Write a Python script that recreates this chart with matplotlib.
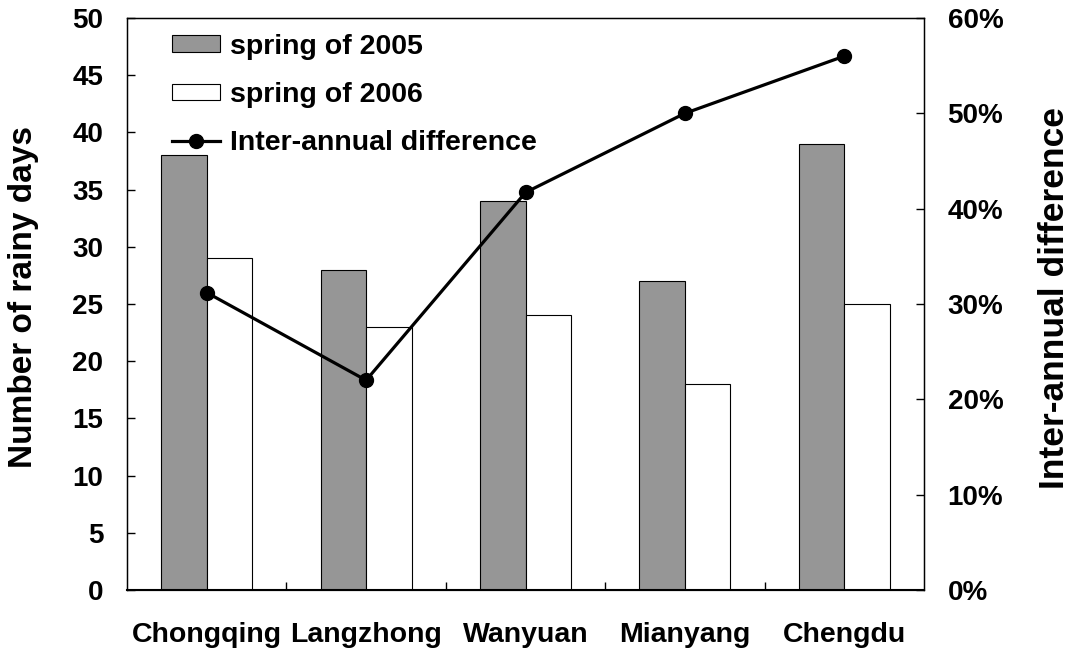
import matplotlib
matplotlib.use("Agg")
import matplotlib.pyplot as plt
import numpy as np
from matplotlib.ticker import FuncFormatter, FixedLocator, NullFormatter

plt.rcParams['font.family'] = ['Liberation Sans', 'DejaVu Sans']
plt.rcParams['font.weight'] = 'bold'

categories = ["Chongqing", "Langzhong", "Wanyuan", "Mianyang", "Chengdu"]
spring_2005 = [38, 28, 34, 27, 39]
spring_2006 = [29, 23, 24, 18, 25]
inter_annual_diff = [0.312, 0.22, 0.417, 0.50, 0.56]

fig = plt.figure(figsize=(10.70, 6.54), dpi=100)
ax = fig.add_axes([127/1070, 1-590/654, 797/1070, 572/654])
x = np.arange(len(categories))
w = 0.285
b1 = ax.bar(x - w/2, spring_2005, w, color='#969696', edgecolor='black', linewidth=0.8, label='spring of 2005', zorder=2)
b2 = ax.bar(x + w/2, spring_2006, w, color='white', edgecolor='black', linewidth=0.8, label='spring of 2006', zorder=2)
ax.set_xlim(-0.5, len(categories) - 0.5)
ax.set_ylim(0, 50)
ax.set_yticks(np.arange(0, 51, 5))
ax.xaxis.set_major_locator(FixedLocator(np.arange(0.5, len(categories) - 0.5, 1)))
ax.xaxis.set_major_formatter(NullFormatter())
ax.xaxis.set_minor_locator(FixedLocator(x))
ax.set_xticklabels(categories, minor=True)
ax.tick_params(axis='x', which='major', direction='in', length=6, width=1)
ax.tick_params(axis='x', which='minor', length=0, pad=23, labelsize=20.5)
ax.tick_params(axis='y', direction='in', length=6, width=1, labelsize=20, pad=17)
for s in ax.spines.values():
    s.set_linewidth(1.0)
ax.spines['bottom'].set_linewidth(1.5)
ax.set_ylabel('Number of rainy days', fontsize=24, fontweight='bold', labelpad=24)
ax.yaxis.label.set_y(0.513)

ax2 = ax.twinx()
ax2.set_position(ax.get_position())
ln, = ax2.plot(x, inter_annual_diff, color='black', linewidth=2.3, marker='o', markersize=10,
               label='Inter-annual difference', zorder=3)
ax2.set_ylim(0, 0.6)
ax2.set_yticks(np.arange(0, 0.61, 0.1))
ax2.yaxis.set_major_formatter(FuncFormatter(lambda v, p: f"{v*100:.0f}%"))
ax2.tick_params(axis='y', direction='in', length=6, width=1, labelsize=20, pad=17)
ax2.set_ylabel('Inter-annual difference', fontsize=25.5, fontweight='bold', labelpad=25)
ax2.yaxis.label.set_y(0.511)

leg = ax.legend(handles=[b1, b2, ln], loc='upper left', bbox_to_anchor=(0.042, 0.992),
                borderaxespad=0, frameon=False, fontsize=20.5, handlelength=1.68, handleheight=0.53,
                labelspacing=0.78, handletextpad=0.35)

fig.savefig('out.png', dpi=100)
